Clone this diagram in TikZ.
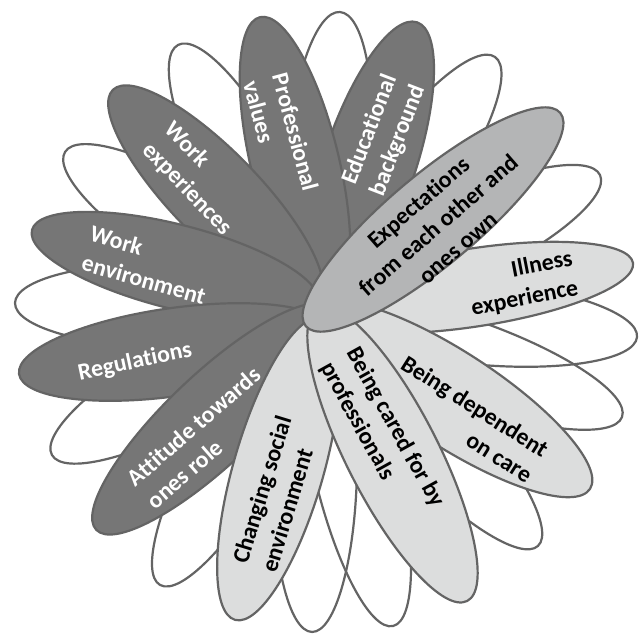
\documentclass[tikz,border=0pt]{standalone}
\usepackage{fontspec}
\setmainfont{Carlito}[Ligatures=NoCommon, RawFeature=-clig, RawFeature=-calt, RawFeature=-dlig]
\definecolor{darkp}{HTML}{767676}
\definecolor{midp}{HTML}{B4B5B6}
\definecolor{lightp}{HTML}{DCDDDD}
\definecolor{edgec}{HTML}{646464}
\tikzset{
  petalline/.style={draw=edgec, line width=2.2pt},
  backpetal/.style={petalline},
  darkpetal/.style={petalline, fill=darkp},
  midpetal/.style={petalline, fill=midp},
  lightpetal/.style={petalline, fill=lightp},
  lbl/.style={font=\bfseries\fontsize{23.8}{30}\selectfont, inner sep=0pt},
  wlbl/.style={lbl, text=white},
  blbl/.style={lbl, text=black}
}
\newcommand\flpetal[6]{\draw[#1, rotate around={#4:(#2,#3)}] (#2,#3) ellipse [x radius=#5, y radius=#6];}
\begin{document}
\begin{tikzpicture}[x=1pt, y=-1pt]
\useasboundingbox[fill=white] (0,0) rectangle (640,634);
% back ring of white petals
\flpetal{backpetal}{329}{160}{85.75}{148.4}{42}
\flpetal{backpetal}{406.5}{182.5}{54.8}{153.6}{42}
\flpetal{backpetal}{459}{241.5}{25.25}{155.9}{42}
\flpetal{backpetal}{477.5}{322.5}{-5.2}{160.2}{42}
\flpetal{backpetal}{470}{362.5}{-19.7}{161.5}{42}
\flpetal{backpetal}{428}{427}{-47.25}{162}{42}
\flpetal{backpetal}{355.5}{467}{-76.7}{163.4}{42}
\flpetal{backpetal}{315}{470}{-91.06}{162}{42}
\flpetal{backpetal}{239}{446.5}{-119.7}{159.4}{42}
\flpetal{backpetal}{185}{381.5}{-151.1}{152}{42}
\flpetal{backpetal}{166.5}{305.5}{179.05}{151.5}{42}
\flpetal{backpetal}{191.5}{230}{148.3}{148.6}{42}
\flpetal{backpetal}{248}{176.5}{118}{149}{42}
% front petals
\flpetal{darkpetal}{369.5}{163.5}{71.4}{149}{46}
\flpetal{darkpetal}{295}{163}{103.5}{150}{44}
\flpetal{darkpetal}{215.6}{195}{134.3}{147}{44}
\flpetal{darkpetal}{175}{266.5}{165.7}{147.6}{42}
\flpetal{darkpetal}{174.5}{352}{-171.95}{157}{44}
\flpetal{darkpetal}{213}{419}{-136.5}{161}{45}
\flpetal{lightpetal}{278.5}{469}{-106.1}{157}{45}
\flpetal{lightpetal}{474}{287.5}{8.76}{160.9}{39}
\flpetal{lightpetal}{452}{399}{-33.1}{164.7}{47}
\flpetal{lightpetal}{392.5}{454.5}{-63}{164.4}{46}
\flpetal{midpetal}{433}{219.5}{40}{166}{45}
% labels
\node[wlbl, align=left, rotate=-75] (prof) at (281,136) {Professional\\values};
\node[wlbl, align=center, rotate=69] (edu) at (384,135) {Educational\\background};
\node[blbl, align=center, rotate=41] (expc) at (438,225) {Expectations\\from each other and\\ones own};
\node[blbl, align=right, rotate=11] (ill) at (522,284) {Illness\\experience};
\node[blbl, align=right, rotate=-32.3] (dep) at (467,419) {Being dependent\\on care};
\node[blbl, align=left, rotate=-61] (cared) at (382,435) {Being cared for by\\professionals};
\node[blbl, align=left, rotate=73] (chg) at (276,494) {Changing social\\environment};
\node[wlbl, align=left, rotate=41] (att) at (203.5,437.6) {Attitude towards\\ones role};
\node[wlbl, rotate=12] (reg) at (135,362) {Regulations};
\node[wlbl, align=left, rotate=-16] (wenv) at (148,265) {Work\\environment};
\node[wlbl, align=left, rotate=-46] (wexp) at (198,179) {Work\\experiences};
\end{tikzpicture}
\end{document}
